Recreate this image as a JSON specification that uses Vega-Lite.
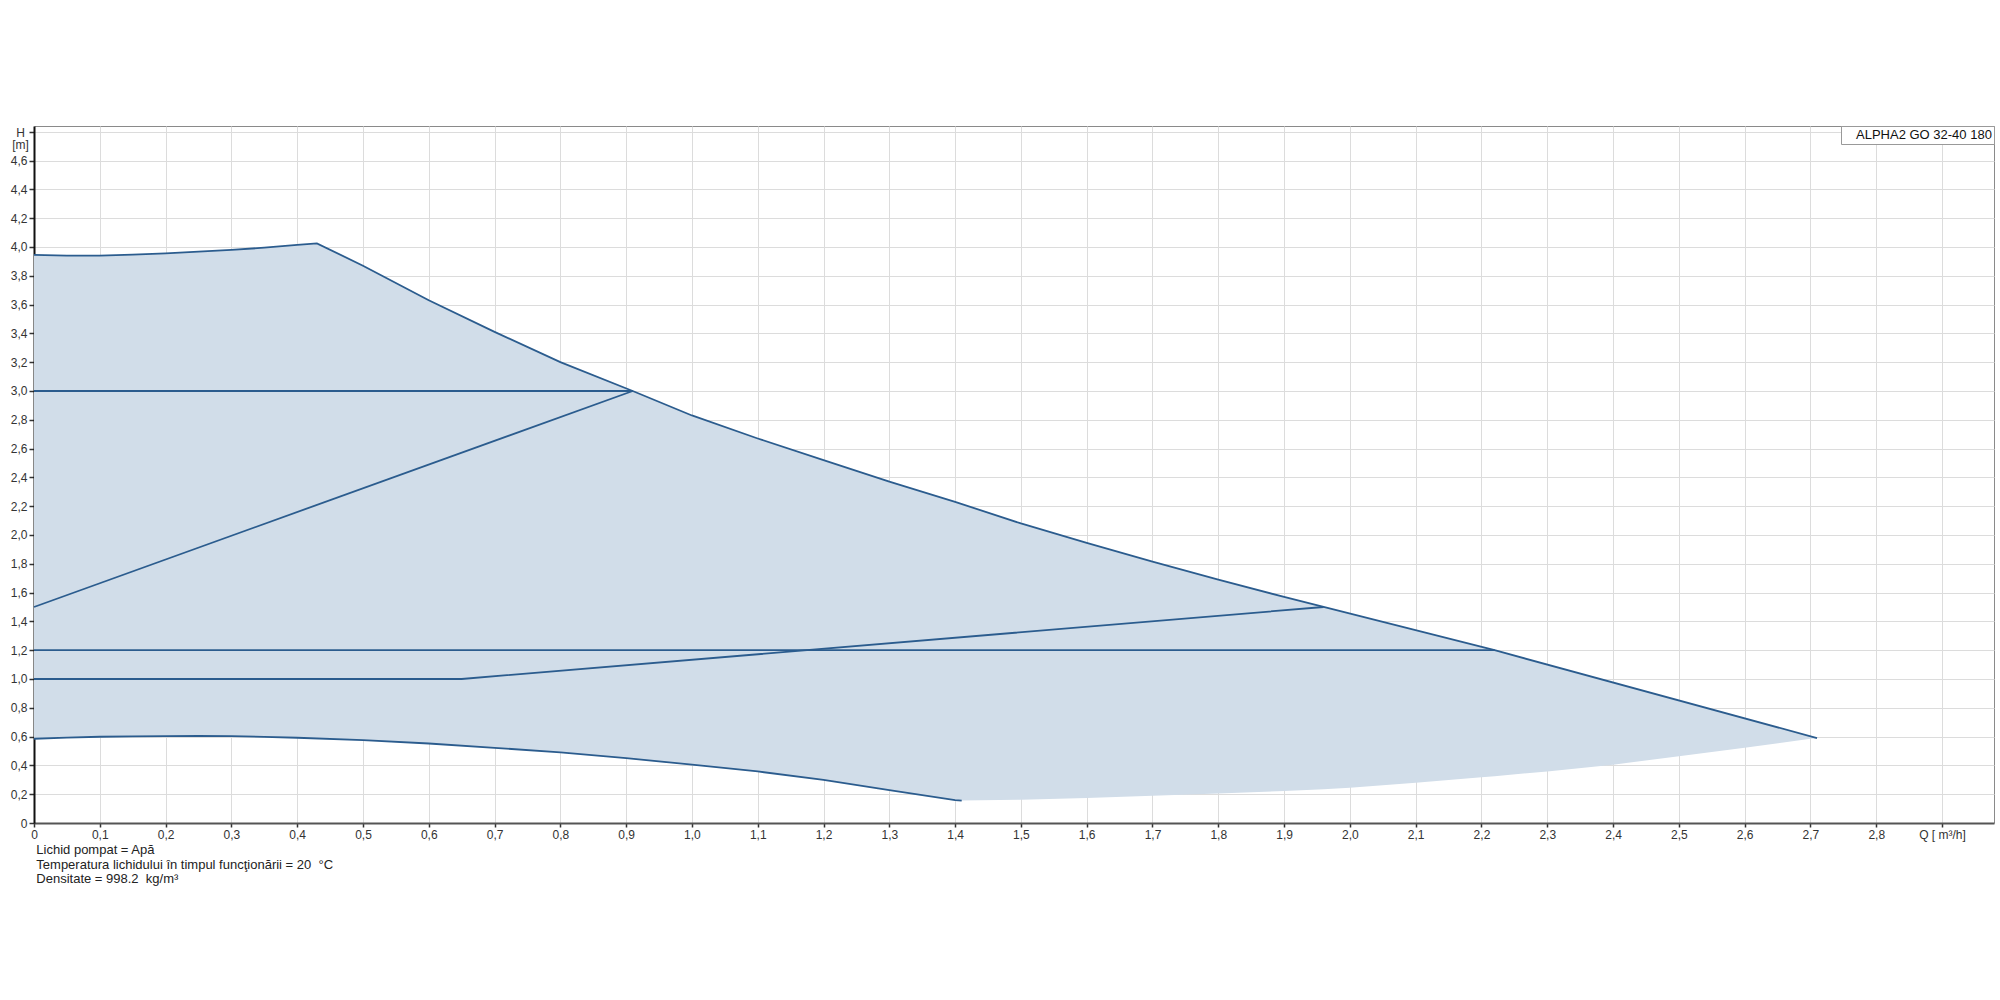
{
  "$schema": "https://vega.github.io/schema/vega-lite/v6.json",
  "width": 1960,
  "height": 697,
  "autosize": {"type": "none"},
  "padding": {"left": 34, "top": 126, "right": 6, "bottom": 177},
  "background": "white",
  "config": {
    "view": {"stroke": "#8a8a8a", "strokeWidth": 1},
    "font": "Liberation Sans"
  },
  "title": {
    "text": ["Lichid pompat = Apă", "Temperatura lichidului în timpul funcţionării = 20 \u00a0°C", "Densitate = 998.2 \u00a0kg/m³"],
    "orient": "bottom",
    "anchor": "start",
    "font": "Liberation Sans",
    "fontSize": 13,
    "fontWeight": "normal",
    "color": "#222222",
    "lineHeight": 14.5,
    "offset": 4,
    "dx": 26
  },
  "datasets": {
    "envelope": [
      {"q": 0, "top": 3.945, "bottom": 0.585},
      {"q": 0.05, "top": 3.94, "bottom": 0.593},
      {"q": 0.1, "top": 3.94, "bottom": 0.599},
      {"q": 0.15, "top": 3.947, "bottom": 0.602},
      {"q": 0.2, "top": 3.955, "bottom": 0.603},
      {"q": 0.25, "top": 3.967, "bottom": 0.604},
      {"q": 0.3, "top": 3.98, "bottom": 0.603},
      {"q": 0.35, "top": 3.995, "bottom": 0.598},
      {"q": 0.4, "top": 4.015, "bottom": 0.592},
      {"q": 0.43, "top": 4.025, "bottom": 0.588},
      {"q": 0.5, "top": 3.87, "bottom": 0.575},
      {"q": 0.6, "top": 3.63, "bottom": 0.552},
      {"q": 0.7, "top": 3.41, "bottom": 0.522},
      {"q": 0.8, "top": 3.2, "bottom": 0.491},
      {"q": 0.91, "top": 3.0, "bottom": 0.447},
      {"q": 1.0, "top": 2.83, "bottom": 0.405},
      {"q": 1.1, "top": 2.67, "bottom": 0.358},
      {"q": 1.2, "top": 2.52, "bottom": 0.3},
      {"q": 1.3, "top": 2.37, "bottom": 0.229},
      {"q": 1.4, "top": 2.23, "bottom": 0.159},
      {"q": 1.41, "top": 2.215, "bottom": 0.156},
      {"q": 1.5, "top": 2.08, "bottom": 0.162},
      {"q": 1.6, "top": 1.945, "bottom": 0.174},
      {"q": 1.7, "top": 1.815, "bottom": 0.19},
      {"q": 1.8, "top": 1.69, "bottom": 0.205},
      {"q": 1.9, "top": 1.57, "bottom": 0.222},
      {"q": 1.96, "top": 1.5, "bottom": 0.235},
      {"q": 2.0, "top": 1.454, "bottom": 0.245},
      {"q": 2.1, "top": 1.338, "bottom": 0.28},
      {"q": 2.2, "top": 1.223, "bottom": 0.318},
      {"q": 2.22, "top": 1.2, "bottom": 0.325},
      {"q": 2.3, "top": 1.1, "bottom": 0.358},
      {"q": 2.4, "top": 0.976, "bottom": 0.405},
      {"q": 2.5, "top": 0.851, "bottom": 0.464},
      {"q": 2.6, "top": 0.727, "bottom": 0.522},
      {"q": 2.7, "top": 0.602, "bottom": 0.585},
      {"q": 2.71, "top": 0.59, "bottom": 0.59}
    ],
    "curves": [
      {"series": "max", "i": 0, "q": 0, "h": 3.945},
      {"series": "max", "i": 1, "q": 0.05, "h": 3.94},
      {"series": "max", "i": 2, "q": 0.1, "h": 3.94},
      {"series": "max", "i": 3, "q": 0.15, "h": 3.947},
      {"series": "max", "i": 4, "q": 0.2, "h": 3.955},
      {"series": "max", "i": 5, "q": 0.25, "h": 3.967},
      {"series": "max", "i": 6, "q": 0.3, "h": 3.98},
      {"series": "max", "i": 7, "q": 0.35, "h": 3.995},
      {"series": "max", "i": 8, "q": 0.4, "h": 4.015},
      {"series": "max", "i": 9, "q": 0.43, "h": 4.025},
      {"series": "max", "i": 10, "q": 0.5, "h": 3.87},
      {"series": "max", "i": 11, "q": 0.6, "h": 3.63},
      {"series": "max", "i": 12, "q": 0.7, "h": 3.41},
      {"series": "max", "i": 13, "q": 0.8, "h": 3.2},
      {"series": "max", "i": 14, "q": 0.91, "h": 3.0},
      {"series": "max", "i": 15, "q": 1.0, "h": 2.83},
      {"series": "max", "i": 16, "q": 1.1, "h": 2.67},
      {"series": "max", "i": 17, "q": 1.2, "h": 2.52},
      {"series": "max", "i": 18, "q": 1.3, "h": 2.37},
      {"series": "max", "i": 19, "q": 1.4, "h": 2.23},
      {"series": "max", "i": 20, "q": 1.5, "h": 2.08},
      {"series": "max", "i": 21, "q": 1.6, "h": 1.945},
      {"series": "max", "i": 22, "q": 1.7, "h": 1.815},
      {"series": "max", "i": 23, "q": 1.8, "h": 1.69},
      {"series": "max", "i": 24, "q": 1.9, "h": 1.57},
      {"series": "max", "i": 25, "q": 1.96, "h": 1.5},
      {"series": "max", "i": 26, "q": 2.22, "h": 1.2},
      {"series": "max", "i": 27, "q": 2.71, "h": 0.59},
      {"series": "min", "i": 0, "q": 0, "h": 0.585},
      {"series": "min", "i": 1, "q": 0.05, "h": 0.593},
      {"series": "min", "i": 2, "q": 0.1, "h": 0.599},
      {"series": "min", "i": 3, "q": 0.15, "h": 0.602},
      {"series": "min", "i": 4, "q": 0.2, "h": 0.603},
      {"series": "min", "i": 5, "q": 0.25, "h": 0.604},
      {"series": "min", "i": 6, "q": 0.3, "h": 0.603},
      {"series": "min", "i": 7, "q": 0.35, "h": 0.598},
      {"series": "min", "i": 8, "q": 0.4, "h": 0.592},
      {"series": "min", "i": 9, "q": 0.5, "h": 0.575},
      {"series": "min", "i": 10, "q": 0.6, "h": 0.552},
      {"series": "min", "i": 11, "q": 0.7, "h": 0.522},
      {"series": "min", "i": 12, "q": 0.8, "h": 0.491},
      {"series": "min", "i": 13, "q": 0.9, "h": 0.451},
      {"series": "min", "i": 14, "q": 1.0, "h": 0.405},
      {"series": "min", "i": 15, "q": 1.1, "h": 0.358},
      {"series": "min", "i": 16, "q": 1.2, "h": 0.3},
      {"series": "min", "i": 17, "q": 1.3, "h": 0.229},
      {"series": "min", "i": 18, "q": 1.4, "h": 0.159},
      {"series": "min", "i": 19, "q": 1.41, "h": 0.156},
      {"series": "cp3", "i": 0, "q": 0, "h": 3.0},
      {"series": "cp3", "i": 1, "q": 0.91, "h": 3.0},
      {"series": "pp", "i": 0, "q": 0, "h": 1.5},
      {"series": "pp", "i": 1, "q": 0.91, "h": 3.0},
      {"series": "cp12", "i": 0, "q": 0, "h": 1.2},
      {"series": "cp12", "i": 1, "q": 2.22, "h": 1.2},
      {"series": "low", "i": 0, "q": 0, "h": 1.0},
      {"series": "low", "i": 1, "q": 0.65, "h": 1.0},
      {"series": "low", "i": 2, "q": 1.96, "h": 1.5}
    ]
  },
  "encoding": {
    "x": {
      "field": "q",
      "type": "quantitative",
      "scale": {"domain": [0, 2.979], "nice": false, "zero": false},
      "axis": {
        "title": null,
        "values": [0, 0.1, 0.2, 0.3, 0.4, 0.5, 0.6, 0.7, 0.8, 0.9, 1.0, 1.1, 1.2, 1.3, 1.4, 1.5, 1.6, 1.7, 1.8, 1.9, 2.0, 2.1, 2.2, 2.3, 2.4, 2.5, 2.6, 2.7, 2.8, 2.9],
        "labelExpr": "datum.value == 0 ? '0' : (abs(datum.value - 2.9) < 0.001 ? 'Q [ m³/h]' : replace(format(datum.value, '.1f'), '.', ','))",
        "labelFont": "Liberation Sans",
        "labelFontSize": 12,
        "labelColor": "#333333",
        "labelPadding": 2,
        "labelOverlap": false,
        "labelFlush": false,
        "labelBound": false,
        "tickSize": 4,
        "tickColor": "#333333",
        "tickWidth": 1.5,
        "domainColor": "#555555",
        "domainWidth": 2,
        "grid": true,
        "gridColor": "#dcdcdc",
        "gridWidth": 1
      }
    },
    "y": {
      "type": "quantitative",
      "scale": {"domain": [0, 4.84], "nice": false, "zero": false},
      "axis": {
        "title": null,
        "values": [0, 0.2, 0.4, 0.6, 0.8, 1.0, 1.2, 1.4, 1.6, 1.8, 2.0, 2.2, 2.4, 2.6, 2.8, 3.0, 3.2, 3.4, 3.6, 3.8, 4.0, 4.2, 4.4, 4.6, 4.8],
        "labelExpr": "datum.value == 0 ? '0' : (abs(datum.value - 4.8) < 0.001 ? ['H', '[m]'] : replace(format(datum.value, '.1f'), '.', ','))",
        "labelOffset": {"condition": {"test": "abs(datum.value - 4.8) < 0.001", "value": 1}, "value": 0},
        "labelAlign": {"condition": {"test": "abs(datum.value - 4.8) < 0.001", "value": "center"}, "value": "right"},
        "labelPadding": {"condition": {"test": "abs(datum.value - 4.8) < 0.001", "value": 9}, "value": 2},
        "labelLineHeight": 12,
        "labelFont": "Liberation Sans",
        "labelFontSize": 12,
        "labelColor": "#333333",
        "labelOverlap": false,
        "labelFlush": false,
        "labelBound": false,
        "tickSize": 5,
        "tickColor": "#333333",
        "tickWidth": 1.5,
        "domainColor": "#111111",
        "domainWidth": 2,
        "grid": true,
        "gridColor": "#dcdcdc",
        "gridWidth": 1
      }
    }
  },
  "layer": [
    {
      "data": {"name": "envelope"},
      "mark": {"type": "area", "opacity": 1},
      "encoding": {
        "y": {"field": "top", "type": "quantitative"},
        "y2": {"field": "bottom"},
        "color": {
          "datum": "ALPHA2 GO 32-40 180",
          "type": "nominal",
          "scale": {"range": ["#d1dde9"]},
          "legend": {
            "title": null,
            "orient": "top-right",
            "offset": 0,
            "padding": 2,
            "symbolSize": 0,
            "symbolOpacity": 0,
            "symbolStrokeWidth": 0,
            "labelOffset": 0,
            "labelFont": "Liberation Sans",
            "labelFontSize": 13,
            "labelColor": "#111111",
            "strokeColor": "#999999",
            "fillColor": "white"
          }
        }
      }
    },
    {
      "data": {"name": "curves"},
      "mark": {"type": "line", "color": "#2b5c8e", "strokeWidth": 1.8, "interpolate": "linear"},
      "encoding": {
        "y": {"field": "h", "type": "quantitative"},
        "detail": {"field": "series", "type": "nominal"},
        "order": {"field": "i", "type": "quantitative"}
      }
    }
  ]
}
